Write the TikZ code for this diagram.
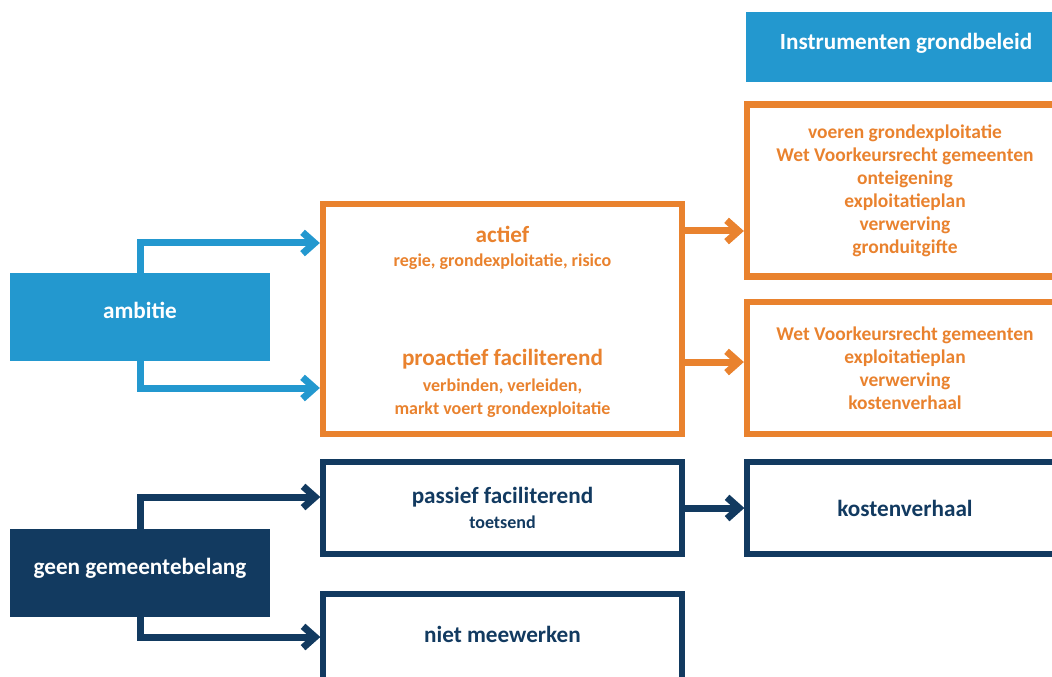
\documentclass[tikz,border=0pt]{standalone}
\usepackage{fontspec}
\setmainfont{Carlito}
\definecolor{ambblue}{RGB}{35, 152, 207}
\definecolor{instrorange}{RGB}{233, 130, 46}
\definecolor{belangnavy}{RGB}{18, 58, 96}
\usetikzlibrary{arrows.meta, positioning, calc}
\newcommand{\titlesize}{\fontsize{17.4}{20}\selectfont\bfseries}
\newcommand{\subsize}{\fontsize{13.5}{16}\selectfont\bfseries}
\newcommand{\listsize}{\fontsize{14.6}{17.25}\selectfont\bfseries}
\tikzset{
  fillbox/.style={rectangle, fill=#1, text=white, font=\titlesize, minimum width=195pt, minimum height=66pt, inner sep=0pt, text height=11pt, text depth=8.5pt},
  framebox/.style={rectangle, draw=#1, line width=4.75pt, text=#1, align=center, inner sep=0pt},
  flowarrow/.style={draw=#1, line width=5.25pt, -{Straight Barb[length=9pt, width=16pt]}}
}

\begin{document}
\begin{tikzpicture}[x=0.75pt, y=-0.75pt]
  \useasboundingbox (0,0) rectangle (1052,677);
  \clip (0,0) rectangle (1052,677);

  % Header
  \node[fillbox=ambblue, minimum width=240pt, minimum height=52.5pt, text depth=7.5pt] (header) at (906,47) {Instrumenten grondbeleid};

  % Left side
  \node[fillbox=ambblue] (ambitie) at (140,317) {ambitie};
  \node[fillbox=belangnavy] (geen) at (140,573) {geen gemeentebelang};

  % Strategies (orange)
  \node[framebox=instrorange, minimum width=269.25pt, minimum height=172.5pt] (strat) at (502.5,319) {};
  \node[text=instrorange, align=center, font=\titlesize] (actief) at (502.5,248) {actief\\[-2pt]{\subsize regie, grondexploitatie, risico}};
  \node[text=instrorange, align=center, font=\titlesize] (proactief) at (502.5,383) {proactief faciliterend\\[-0.5pt]{\subsize verbinden, verleiden,}\\[-2.75pt]{\subsize markt voert grondexploitatie}};

  % Instruments (orange)
  \node[framebox=instrorange, minimum width=237pt, minimum height=129pt, font=\listsize] (instrA) at (905,190.5) {voeren grondexploitatie\\Wet Voorkeursrecht gemeenten\\onteigening\\exploitatieplan\\verwerving\\gronduitgifte};
  \node[framebox=instrorange, minimum width=237pt, minimum height=99pt, font=\listsize] (instrB) at (905,368) {Wet Voorkeursrecht gemeenten\\exploitatieplan\\verwerving\\kostenverhaal};

  % Navy part
  \node[framebox=belangnavy, line width=4pt, minimum width=269.25pt, minimum height=69pt, font=\titlesize] (passief) at (502.5,508) {passief faciliterend\\[-1.75pt]{\subsize toetsend}};
  \node[framebox=belangnavy, line width=4pt, minimum width=237pt, minimum height=69pt, font=\titlesize] (kosten) at (905,508) {kostenverhaal};
  \node[framebox=belangnavy, line width=4pt, minimum width=269.25pt, minimum height=69pt, font=\titlesize, text height=11pt, text depth=7.5pt] (niet) at (502.5,640) {niet meewerken};

  % Connectors
  \coordinate (ambIn1) at ([yshift=57pt]strat.west);
  \coordinate (ambIn2) at ([yshift=-51.75pt]strat.west);
  \coordinate (actOut) at ([yshift=66pt]strat.east);
  \coordinate (proOut) at ([yshift=-32.25pt]strat.east);
  \coordinate (geenIn1) at ([yshift=8.25pt]passief.west);
  \coordinate (geenIn2) at ([yshift=2.25pt]niet.west);

  \draw[flowarrow=ambblue] (ambitie.north) |- (ambIn1);
  \draw[flowarrow=ambblue] (ambitie.south) |- (ambIn2);
  \draw[flowarrow=instrorange] (actOut) -- (actOut -| instrA.west);
  \draw[flowarrow=instrorange] (proOut) -- (proOut -| instrB.west);
  \draw[flowarrow=belangnavy] (geen.north) |- (geenIn1);
  \draw[flowarrow=belangnavy] (geen.south) |- (geenIn2);
  \draw[flowarrow=belangnavy] (passief.east) -- (kosten.west);
\end{tikzpicture}
\end{document}
